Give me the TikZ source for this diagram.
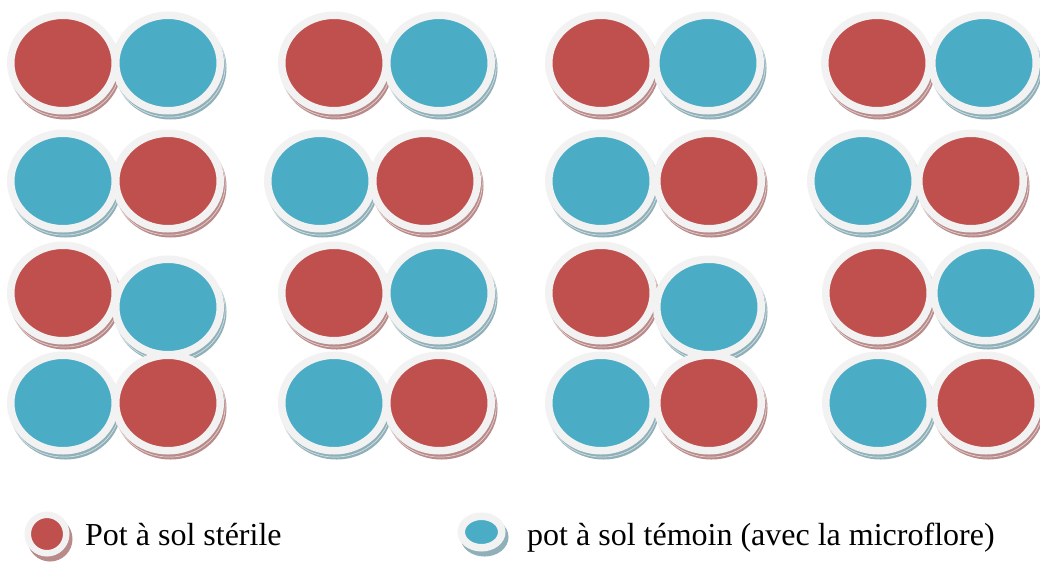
\documentclass[tikz,border=0pt]{standalone}
\usepackage{fontspec}
\setmainfont{Liberation Serif}
\usetikzlibrary{shapes.geometric}
\definecolor{potred}{HTML}{C0504D}
\definecolor{potblue}{HTML}{4BACC6}
\definecolor{ringc}{HTML}{F2F2F2}
\definecolor{shred}{HTML}{B98A8A}
\definecolor{shblue}{HTML}{8FB0B8}
\tikzset{
  potbase/.style={ellipse, inner sep=0pt, outer sep=0pt, minimum width=104.5pt, minimum height=95.5pt, line width=7.5pt},
  rpot/.style={potbase, draw=ringc, fill=potred},
  bpot/.style={potbase, draw=ringc, fill=potblue},
  rshadow/.style={potbase, draw=shred, fill=shred},
  bshadow/.style={potbase, draw=shblue, fill=shblue},
  shline/.style={potbase, draw=white, line width=0.7pt, minimum width=112pt, minimum height=103pt, opacity=0.6},
  legred/.style={ellipse, inner sep=0pt, outer sep=0pt, minimum width=38.5pt, minimum height=38.5pt, line width=6.5pt},
  legblue/.style={ellipse, inner sep=0pt, outer sep=0pt, minimum width=40.5pt, minimum height=31.5pt, line width=7.5pt},
  legtext/.style={anchor=base west, inner sep=0pt, font=\fontsize{32}{38}\selectfont, text=black},
}
% #1 name, #2 x, #3 y
\newcommand\redpot[3]{%
  \node[rshadow] (#1s) at (#2+2.5,#3+5) {};
  \node[shline] (#1l) at (#2+1.2,#3+2.6) {};
  \node[rpot] (#1) at (#2,#3) {};}
\newcommand\bluepot[3]{%
  \node[bshadow] (#1s) at (#2+2.5,#3+5) {};
  \node[shline] (#1l) at (#2+1.2,#3+2.6) {};
  \node[bpot] (#1) at (#2,#3) {};}
\begin{document}
\begin{tikzpicture}[x=1pt,y=-1pt]
\useasboundingbox[fill=white] (0,0) rectangle (1040,563);
% row 1
\redpot{a1}{63}{63}\bluepot{a2}{168}{63}
\redpot{a3}{334}{63}\bluepot{a4}{439}{63}
\redpot{a5}{601}{63}\bluepot{a6}{708}{63}
\redpot{a7}{877}{63}\bluepot{a8}{984}{63}
% row 2
\bluepot{b1}{63}{181}\redpot{b2}{168}{181}
\bluepot{b3}{320}{181}\redpot{b4}{425}{181}
\bluepot{b5}{601}{181}\redpot{b6}{709}{181}
\bluepot{b7}{863}{181}\redpot{b8}{971}{181}
% row 3
\redpot{c1}{63}{293}\bluepot{c2}{168}{307}
\redpot{c3}{334}{293}\bluepot{c4}{439}{293}
\redpot{c5}{601}{293}\bluepot{c6}{709}{307}
\redpot{c7}{878}{293}\bluepot{c8}{986}{293}
% row 4
\bluepot{d1}{63}{403}\redpot{d2}{168}{403}
\bluepot{d3}{334}{403}\redpot{d4}{439}{403}
\bluepot{d5}{601}{403}\redpot{d6}{709}{403}
\bluepot{d7}{878}{403}\redpot{d8}{986}{403}
% legend
\node[legred, draw=shred, fill=shred] (lrs) at (50,539) {};
\node[legred, draw=ringc, fill=potred] (lr) at (47,534) {};
\node[legtext] (ltr) at (85,545) {Pot à sol stérile};
\node[legblue, draw=shblue, fill=shblue] (lbs) at (484.5,537) {};
\node[legblue, draw=ringc, fill=potblue] (lb) at (481.5,532) {};
\node[legtext] (ltb) at (527,545) {pot à sol témoin (avec la microflore)};
\end{tikzpicture}
\end{document}
